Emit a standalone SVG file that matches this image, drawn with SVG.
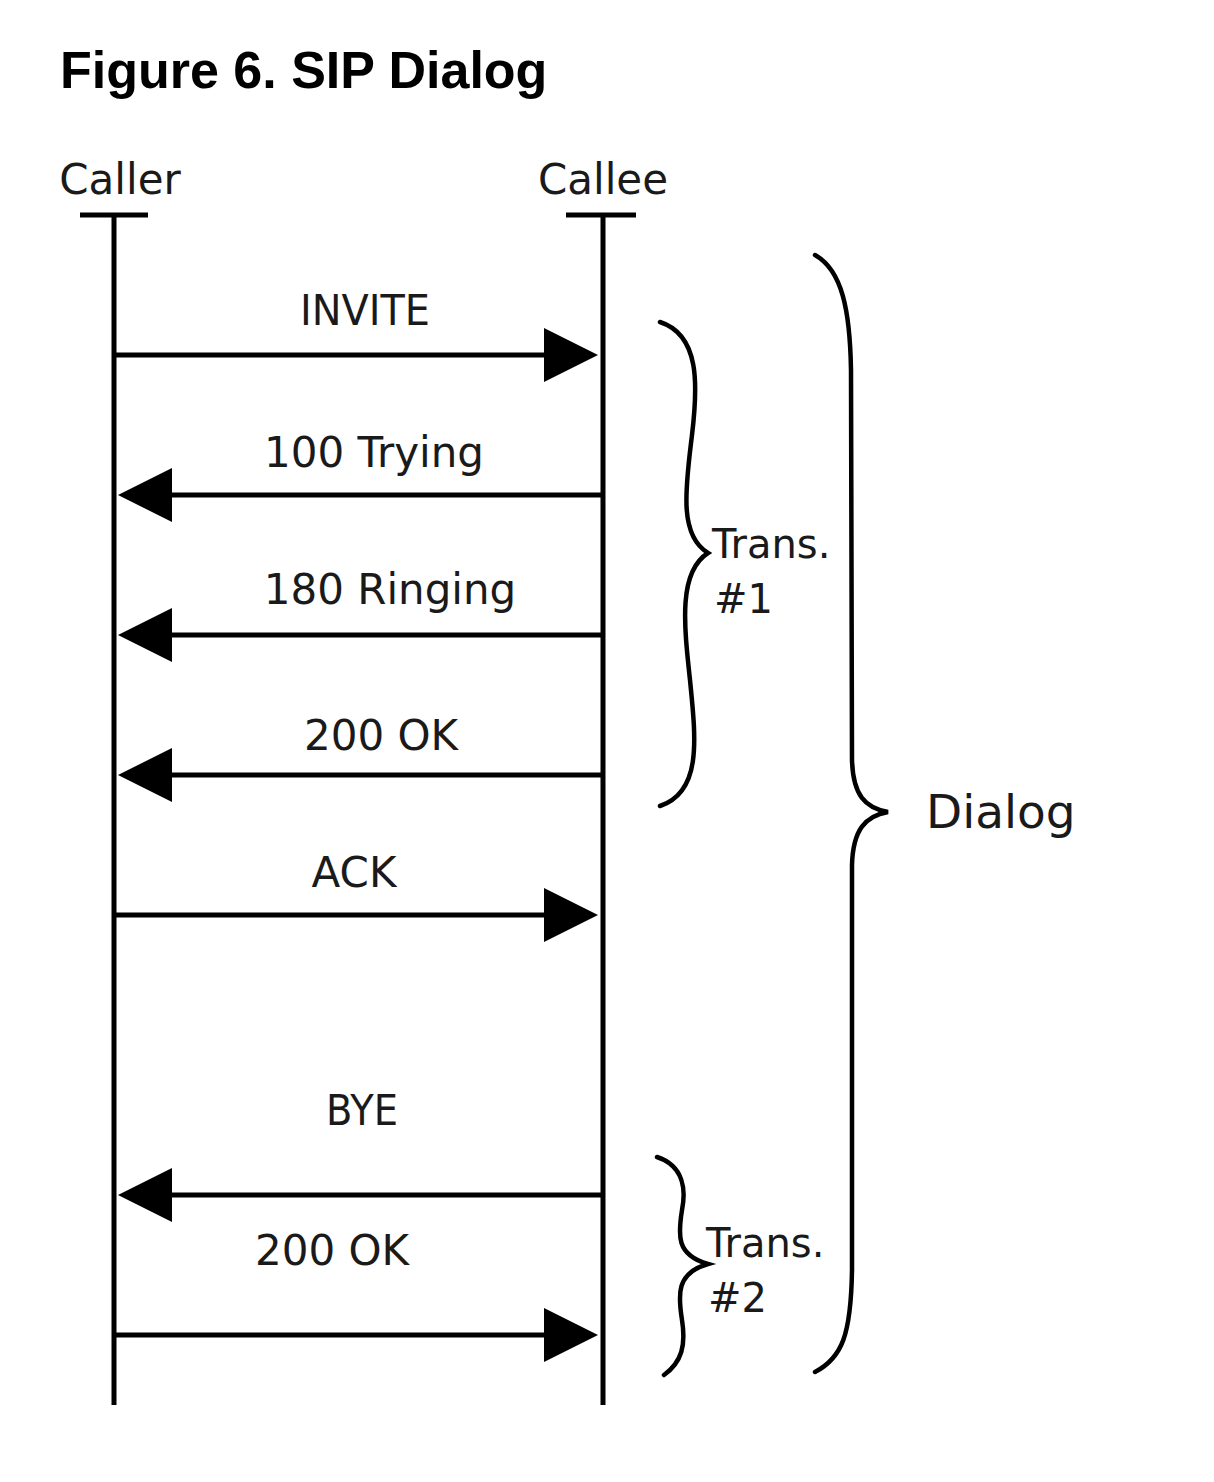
<svg xmlns="http://www.w3.org/2000/svg" width="1214" height="1482" viewBox="0 0 1214 1482">
<style>
.title{font-family:"Liberation Sans",Arial,sans-serif;font-weight:bold;font-size:52px;fill:#000}
.lbl{font-family:"DejaVu Sans",sans-serif;font-size:42px;fill:#1a1a1a}
.side{font-family:"DejaVu Sans",sans-serif;font-size:40px;fill:#1a1a1a}
.big{font-family:"DejaVu Sans",sans-serif;font-size:47px;fill:#1a1a1a}
.life{stroke:#000;stroke-width:5;fill:none}
.msg{stroke:#000;stroke-width:5;fill:none;marker-end:url(#ah)}
.brace{stroke:#000;stroke-width:4.5;fill:none;stroke-linecap:round}
</style>
<defs>
<marker id="ah" viewBox="0 0 54 54" markerWidth="54" markerHeight="54" refX="46" refY="27" orient="auto" markerUnits="userSpaceOnUse">
<path d="M0,0 L54,27 L0,54 z" fill="#000"/>
</marker>
</defs>
<rect width="1214" height="1482" fill="#fff"/>
<text class="title" x="60" y="88">Figure 6. SIP Dialog</text>

<g id="caller">
<text class="lbl" x="120" y="194" text-anchor="middle">Caller</text>
<line class="life" x1="80" y1="215" x2="148" y2="215"/>
<line class="life" x1="114" y1="215" x2="114" y2="1405"/>
</g>
<g id="callee">
<text class="lbl" x="603" y="194" text-anchor="middle">Callee</text>
<line class="life" x1="566" y1="215" x2="636" y2="215"/>
<line class="life" x1="603" y1="215" x2="603" y2="1405"/>
</g>

<g id="connectors">
<line class="msg" x1="114" y1="355" x2="590" y2="355"/>
<line class="msg" x1="603" y1="495" x2="126" y2="495"/>
<line class="msg" x1="603" y1="635" x2="126" y2="635"/>
<line class="msg" x1="603" y1="775" x2="126" y2="775"/>
<line class="msg" x1="114" y1="915" x2="590" y2="915"/>
<line class="msg" x1="603" y1="1195" x2="126" y2="1195"/>
<line class="msg" x1="114" y1="1335" x2="590" y2="1335"/>
</g>

<g id="labels">
<text class="lbl" x="365" y="325" text-anchor="middle" textLength="130" lengthAdjust="spacingAndGlyphs">INVITE</text>
<text class="lbl" x="374" y="467" text-anchor="middle">100 Trying</text>
<text class="lbl" x="390" y="604" text-anchor="middle">180 Ringing</text>
<text class="lbl" x="381" y="750" text-anchor="middle">200 OK</text>
<text class="lbl" x="354" y="887" text-anchor="middle">ACK</text>
<text class="lbl" x="362" y="1125" text-anchor="middle" textLength="72" lengthAdjust="spacingAndGlyphs">BYE</text>
<text class="lbl" x="332" y="1265" text-anchor="middle">200 OK</text>
</g>

<g id="trans1">
<path class="brace" d="M660,322 C700,335 698,385 692,435 C686,485 678,535 708,553 C678,572 684,625 690,680 C696,740 702,792 660,806"/>
<text class="side" x="712" y="558">Trans.</text>
<text class="side" x="714" y="613">#1</text>
</g>
<g id="trans2">
<path class="brace" d="M657,1157 C684,1166 686,1190 682,1210 C678,1235 676,1255 708,1264 C676,1273 678,1295 682,1320 C686,1345 682,1362 664,1375"/>
<text class="side" x="706" y="1257">Trans.</text>
<text class="side" x="708" y="1312">#2</text>
</g>
<g id="dialog">
<path class="brace" d="M815,255 C842,270 850,310 851,370 L852,760 C853,795 865,808 888,812 C865,816 853,830 852,865 L852,1270 C851,1335 842,1358 815,1372"/>
<text class="big" x="926" y="828">Dialog</text>
</g>
</svg>
